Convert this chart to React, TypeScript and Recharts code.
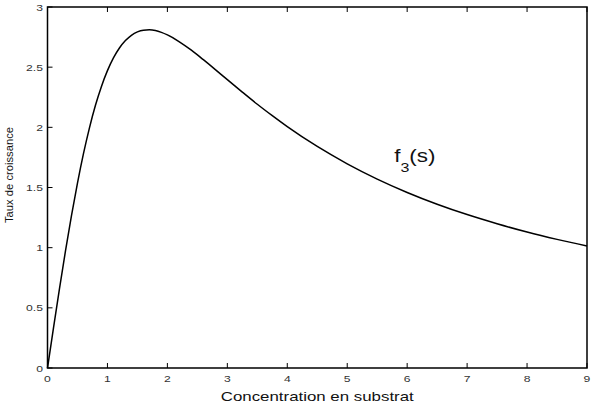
import React from "react";
import {
  LineChart,
  Line,
  XAxis,
  YAxis,
  ReferenceDot,
  ReferenceArea,
  Label,
} from "recharts";

// Substrate concentration (x) and growth rate f3(s) (y)
const substrate = [
  0, 0.1, 0.2, 0.3, 0.4, 0.5, 0.6, 0.7, 0.8, 0.9, 1.0, 1.1, 1.2, 1.3, 1.4, 1.5,
  1.6, 1.7, 1.8, 1.9, 2.0, 2.2, 2.4, 2.6, 2.8, 3.0, 3.25, 3.5, 3.75, 4.0, 4.5,
  5.0, 5.5, 6.0, 6.5, 7.0, 7.5, 8.0, 8.5, 9.0,
];
const growth = [
  0, 0.334, 0.66, 0.973, 1.267, 1.537, 1.781, 1.996, 2.183, 2.34, 2.471, 2.577,
  2.659, 2.721, 2.765, 2.793, 2.807, 2.81, 2.804, 2.789, 2.768, 2.711, 2.641,
  2.562, 2.48, 2.396, 2.293, 2.192, 2.097, 2.006, 1.841, 1.697, 1.57, 1.459,
  1.361, 1.275, 1.199, 1.13, 1.069, 1.014,
];
const xTicks = [0, 1, 2, 3, 4, 5, 6, 7, 8, 9];
const yTicks = [0, 0.5, 1, 1.5, 2, 2.5, 3];
const xTitle = "Concentration en substrat";
const yTitle = "Taux de croissance";
const curveName = "f";
const curveSub = "3";
const curveArg = "(s)";
const annotationAt = { s: 5.8, value: 1.7 };

const data = substrate.map((s, i) => ({ s, f: growth[i] }));

const FONT = "'Liberation Sans', Arial, Helvetica, sans-serif";
const TICK_COLOR = "#333";
const TICK_LEN = 5;
const STRETCH = 1.28; // the reference's text is horizontally stretched

// bottom axis: draws inward tick mark + label
const XTickBottom = (props: any) => {
  const { x, y, payload } = props;
  return (
    <g>
      <line x1={x} y1={y} x2={x} y2={y - TICK_LEN} stroke="#000" strokeWidth={1} />
      <text
        x={0}
        y={0}
        transform={`translate(${x} ${y + 14}) scale(${STRETCH} 1)`}
        textAnchor="middle"
        fontFamily={FONT}
        fontSize={9.5}
        fill={TICK_COLOR}
      >
        {String(payload.value)}
      </text>
    </g>
  );
};

// top axis: inward tick mark only
const XTickTop = (props: any) => {
  const { x, y } = props;
  return <line x1={x} y1={y} x2={x} y2={y + TICK_LEN} stroke="#000" strokeWidth={1} />;
};

const YTickLeft = (props: any) => {
  const { x, y, payload } = props;
  return (
    <g>
      <line x1={x} y1={y} x2={x + TICK_LEN} y2={y} stroke="#000" strokeWidth={1} />
      <text
        x={0}
        y={0}
        transform={`translate(${x - 4.5} ${y + 3.5}) scale(${STRETCH} 1)`}
        textAnchor="end"
        fontFamily={FONT}
        fontSize={9.5}
        fill={TICK_COLOR}
      >
        {String(payload.value)}
      </text>
    </g>
  );
};

const YTickRight = (props: any) => {
  const { x, y } = props;
  return <line x1={x} y1={y} x2={x - TICK_LEN} y2={y} stroke="#000" strokeWidth={1} />;
};

export default function App() {
  return (
    <div style={{ position: "absolute", left: 0, top: 0, background: "#fff" }}>
      <LineChart
        width={602}
        height={409}
        data={data}
        margin={{ top: 6, right: 14, bottom: 0, left: 0 }}
      >
        <XAxis
          xAxisId="bottom"
          dataKey="s"
          type="number"
          domain={[0, 9]}
          ticks={xTicks}
          orientation="bottom"
          height={41}
          tickSize={0}
          tickMargin={0}
          tick={<XTickBottom />}
          axisLine={false}
          tickLine={false}
          interval={0}
        >
          <Label
            content={(p: any) => {
              const vb = p.viewBox || { x: 47.5, y: 368, width: 539 };
              return (
                <text
                  x={vb.x + vb.width / 2}
                  y={vb.y + 33}
                  textAnchor="middle"
                  fontFamily={FONT}
                  fontSize={13.5}
                  fill="#111"
                  textLength={193}
                  lengthAdjust="spacingAndGlyphs"
                >
                  {xTitle}
                </text>
              );
            }}
          />
        </XAxis>
        <XAxis
          xAxisId="top"
          dataKey="s"
          type="number"
          domain={[0, 9]}
          ticks={xTicks}
          orientation="top"
          height={1}
          tickSize={0}
          tickMargin={0}
          tick={<XTickTop />}
          axisLine={false}
          tickLine={false}
          interval={0}
        />
        <YAxis
          yAxisId="left"
          type="number"
          domain={[0, 3]}
          ticks={yTicks}
          orientation="left"
          width={47.5}
          tickSize={0}
          tickMargin={0}
          tick={<YTickLeft />}
          axisLine={false}
          tickLine={false}
          interval={0}
        >
          <Label
            content={() => (
              <text
                x={12.5}
                y={175}
                transform="rotate(-90 12.5 175)"
                textAnchor="middle"
                fontFamily={FONT}
                fontSize={11.5}
                fill="#111"
                textLength={96}
                lengthAdjust="spacingAndGlyphs"
              >
                {yTitle}
              </text>
            )}
          />
        </YAxis>
        <YAxis
          yAxisId="right"
          type="number"
          domain={[0, 3]}
          ticks={yTicks}
          orientation="right"
          width={1}
          tickSize={0}
          tickMargin={0}
          tick={<YTickRight />}
          axisLine={false}
          tickLine={false}
          interval={0}
        />
        <ReferenceArea
          xAxisId="bottom"
          yAxisId="left"
          x1={0}
          x2={9}
          y1={0}
          y2={3}
          fill="none"
          fillOpacity={0}
          stroke="#000"
          strokeWidth={1.5}
          strokeOpacity={1}
          ifOverflow="visible"
        />
        <Line
          xAxisId="bottom"
          yAxisId="left"
          dataKey="f"
          type="monotone"
          stroke="#000"
          strokeWidth={1.5}
          dot={false}
          isAnimationActive={false}
        />
        <ReferenceDot
          xAxisId="bottom"
          yAxisId="left"
          x={annotationAt.s}
          y={annotationAt.value}
          r={1}
          fill="none"
          stroke="none"
          label={{
            content: (p: any) => {
              const vb = p.viewBox || { x: 0, y: 0 };
              return (
                <text
                  x={0}
                  y={0}
                  transform={`translate(${vb.x} ${vb.y}) scale(${STRETCH} 1)`}
                  fontFamily={FONT}
                  fontSize={17.5}
                  fill="#111"
                >
                  {curveName}
                  <tspan fontSize={12.5} dy={10}>
                    {curveSub}
                  </tspan>
                  <tspan fontSize={17.5} dy={-10}>
                    {curveArg}
                  </tspan>
                </text>
              );
            },
          }}
        />
      </LineChart>
    </div>
  );
}
